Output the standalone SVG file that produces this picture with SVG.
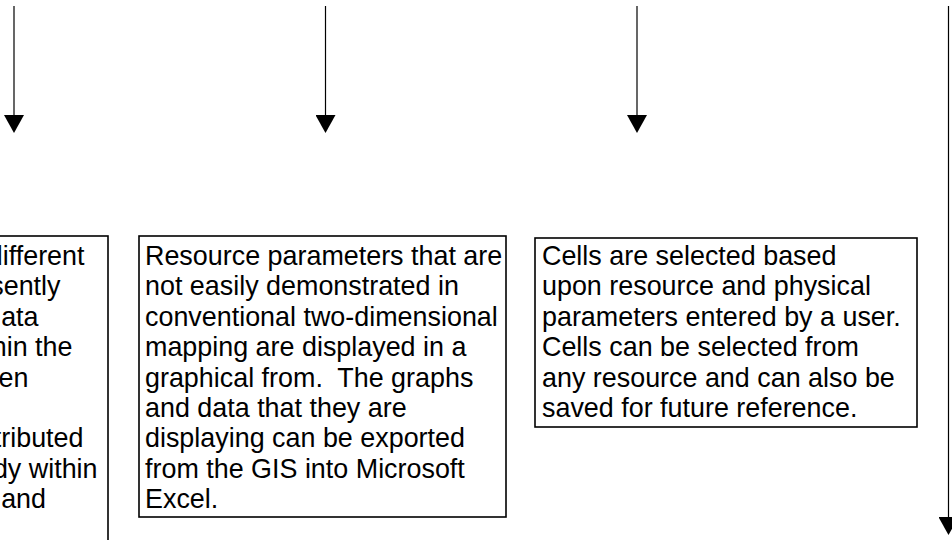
<svg xmlns="http://www.w3.org/2000/svg" width="952" height="540" viewBox="0 0 952 540">
<style>
.box{fill:#fff;stroke:#000;stroke-width:1.6}
.t{font-family:"Liberation Sans",Arial,sans-serif;font-size:26.9px;fill:#000}
.con{stroke:#000;stroke-width:1.2;fill:none}
</style>
<defs>
<marker id="ah" viewBox="0 0 18 20" refX="0" refY="10" markerWidth="18" markerHeight="20" markerUnits="userSpaceOnUse" orient="auto">
<path d="M0,0 L18,10 L0,20 z" fill="#000"/>
</marker>
</defs>
<rect width="952" height="540" fill="#fff"/>
<g id="connectors">
<line class="con" x1="14" y1="6" x2="14" y2="115" marker-end="url(#ah)"/>
<line class="con" x1="325.5" y1="6" x2="325.5" y2="115" marker-end="url(#ah)"/>
<line class="con" x1="637" y1="6" x2="637" y2="115" marker-end="url(#ah)"/>
<line class="con" x1="948.5" y1="6" x2="948.5" y2="517" marker-end="url(#ah)"/>
</g>
<g id="node1">
<rect class="box" x="-20" y="236" width="128" height="340"/>
<text class="t" text-anchor="end">
<tspan x="92" y="265">different</tspan>
<tspan x="68" y="295.4">sently</tspan>
<tspan x="46" y="325.8">ata</tspan>
<tspan x="80" y="356.2">hin the</tspan>
<tspan x="36" y="386.6">en</tspan>
<tspan x="91" y="447.4">tributed</tspan>
<tspan x="105" y="477.8">dy within</tspan>
<tspan x="46" y="508.2">and</tspan>
</text>
</g>
<g id="node2">
<rect class="box" x="139" y="236" width="367" height="281"/>
<text class="t">
<tspan x="145" y="265">Resource parameters that are</tspan>
<tspan x="145" y="295.4">not easily demonstrated in</tspan>
<tspan x="145" y="325.8">conventional two-dimensional</tspan>
<tspan x="145" y="356.2">mapping are displayed in a</tspan>
<tspan x="145" y="386.6">graphical from.&#160; The graphs</tspan>
<tspan x="145" y="417">and data that they are</tspan>
<tspan x="145" y="447.4">displaying can be exported</tspan>
<tspan x="145" y="477.8">from the GIS into Microsoft</tspan>
<tspan x="145" y="508.2">Excel.</tspan>
</text>
</g>
<g id="node3">
<rect class="box" x="535" y="238" width="382" height="189"/>
<text class="t">
<tspan x="542" y="265">Cells are selected based</tspan>
<tspan x="542" y="295.4">upon resource and physical</tspan>
<tspan x="542" y="325.8">parameters entered by a user.</tspan>
<tspan x="542" y="356.2">Cells can be selected from</tspan>
<tspan x="542" y="386.6">any resource and can also be</tspan>
<tspan x="542" y="417">saved for future reference.</tspan>
</text>
</g>
</svg>
